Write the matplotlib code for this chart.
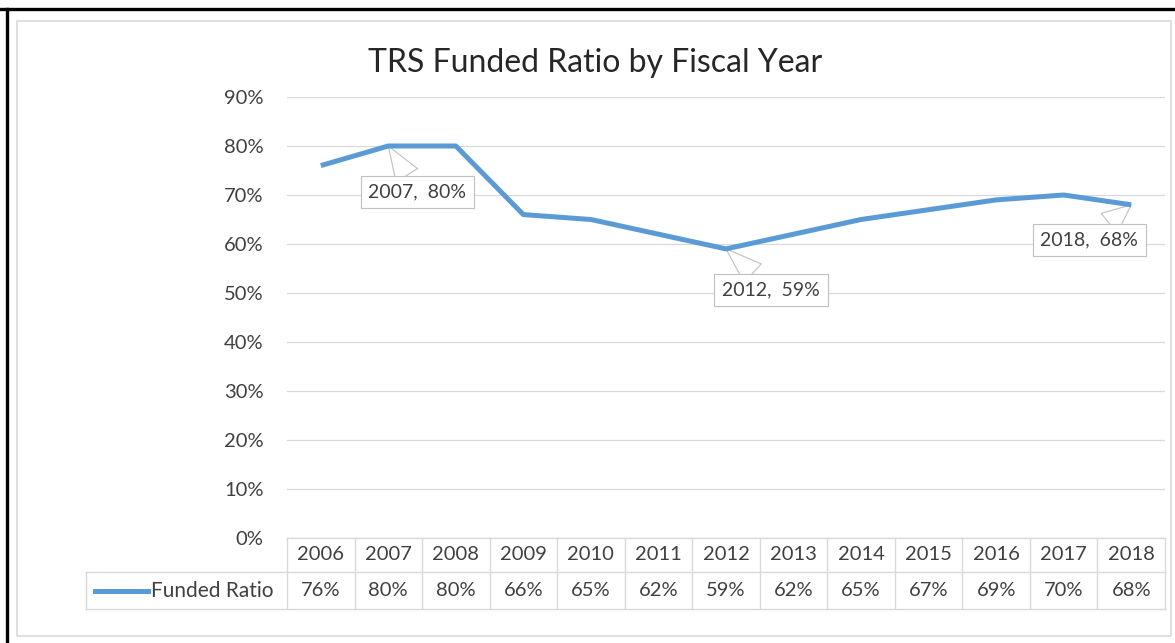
import matplotlib
matplotlib.use("Agg")
import matplotlib.pyplot as plt
from matplotlib.patches import Rectangle
from matplotlib.lines import Line2D

years = ["2006", "2007", "2008", "2009", "2010", "2011", "2012",
         "2013", "2014", "2015", "2016", "2017", "2018"]
funded = [76, 80, 80, 66, 65, 62, 59, 62, 65, 67, 69, 70, 68]
yticks = [0, 10, 20, 30, 40, 50, 60, 70, 80, 90]
series_name = "Funded Ratio"
title = "TRS Funded Ratio by Fiscal Year"
callouts = {"2007": (29, -46), "2012": (45, -41), "2018": (-42, -35)}

W, H = 1175, 643
plt.rcParams['font.family'] = ['Lato', 'DejaVu Sans']
fig = plt.figure(figsize=(W / 100, H / 100), dpi=100)
fig.patch.set_facecolor('white')

def fx(x):
    return x / W

def fy(y):
    return 1 - y / H

line_color = '#5B9BD5'
grid_color = '#d9d9d9'
text_color = '#404040'
FS = 14.5

# plot area
L, R, T, B = 287, 1165, 97, 538
ax = fig.add_axes([fx(L), fy(B), fx(R) - fx(L), fy(T) - fy(B)])
ax.set_xlim(-0.5, len(years) - 0.5)
ax.set_ylim(0, 0.9)
ax.set_yticks([v / 100 for v in yticks])
ax.set_yticklabels([f"{v}%" for v in yticks], fontsize=FS, color=text_color)
ax.tick_params(axis='y', length=0, pad=17)
ax.set_xticks([])
for s in ax.spines.values():
    s.set_visible(False)
ax.grid(axis='y', color=grid_color, lw=0.9)
ax.set_axisbelow(True)

xs = list(range(len(years)))
ys = [v / 100 for v in funded]
ax.plot(xs, ys, color=line_color, lw=3.6, solid_capstyle='butt', solid_joinstyle='round', zorder=3)

for yr, (dx, dy) in callouts.items():
    i = years.index(yr)
    ax.annotate(f"{yr},  {funded[i]}%", xy=(i, ys[i]), xytext=(dx, dy),
                textcoords='offset pixels', ha='center', va='center',
                fontsize=14, color=text_color, zorder=2,
                bbox=dict(boxstyle='square,pad=0.4', fc='white', ec='#bfbfbf', lw=0.8),
                arrowprops=dict(arrowstyle='wedge,tail_width=1.3', fc='white',
                                ec='#bfbfbf', lw=0.8, shrinkA=0, shrinkB=0))

# data table
col_w = (R - L) / len(years)
row1_top, row1_bot, row2_bot = 538, 572, 609
leg_left = 86
lines = []
lines.append(([L, R], [row1_top, row1_top]))
lines.append(([leg_left, R], [row1_bot, row1_bot]))
lines.append(([leg_left, R], [row2_bot, row2_bot]))
lines.append(([leg_left, leg_left], [row1_bot, row2_bot]))
for k in range(len(years) + 1):
    x = L + k * col_w
    lines.append(([x, x], [row1_top, row2_bot]))
for xx, yy in lines:
    fig.add_artist(Line2D([fx(v) for v in xx], [fy(v) for v in yy],
                          color=grid_color, lw=1.0))
for k, (yr, v) in enumerate(zip(years, funded)):
    cx = L + (k + 0.5) * col_w
    fig.text(fx(cx), fy((row1_top + row1_bot) / 2), yr, ha='center', va='center',
             fontsize=FS, color=text_color)
    fig.text(fx(cx), fy((row1_bot + row2_bot) / 2), f"{v}%", ha='center', va='center',
             fontsize=FS, color=text_color)
fig.add_artist(Line2D([fx(95), fx(148)], [fy(591), fy(591)], color=line_color, lw=3.6))
fig.text(fx(151), fy(591), series_name, ha='left', va='center', fontsize=FS + 0.5, color=text_color)

# title
fig.text(fx(595), fy(63), title, ha='center', va='center', fontsize=23, color='#262626')

# chart border and outer frame
fig.add_artist(Rectangle((fx(17), fy(636)), fx(1171) - fx(17), fy(21) - fy(636),
                         fill=False, ec='#d9d9d9', lw=1.2))
fig.add_artist(Line2D([0, 1], [fy(8.5), fy(8.5)], color='black', lw=2.4))
fig.add_artist(Line2D([fx(6.5), fx(6.5)], [0, fy(8.5)], color='black', lw=2.4))

fig.savefig("out.png", dpi=100)
